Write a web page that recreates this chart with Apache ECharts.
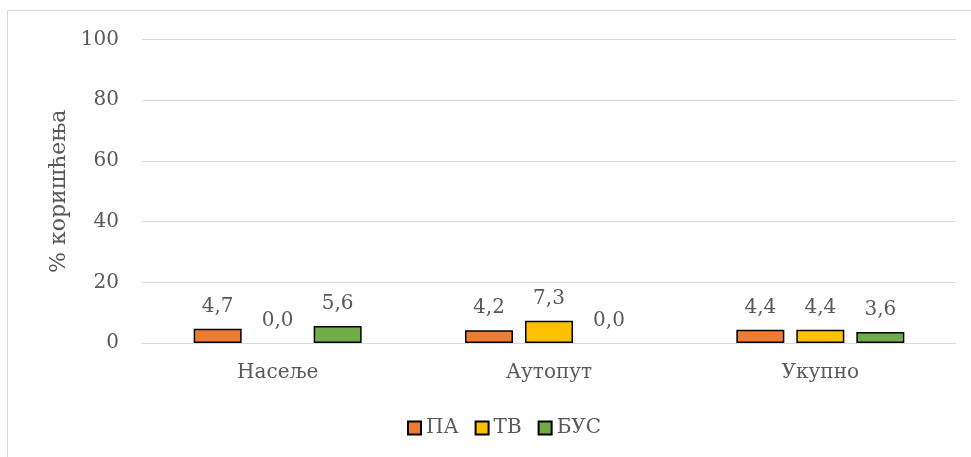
<!DOCTYPE html>
<html>
<head>
<meta charset="utf-8">
<script src="https://cdn.jsdelivr.net/npm/echarts@6/dist/echarts.min.js"></script>
<style>
html,body{margin:0;padding:0;background:#fff;}
#c{width:971px;height:457px;}
</style>
</head>
<body>
<div id="c"></div>
<script>
const categories = ['Насеље', 'Аутопут', 'Укупно'];
const seriesNames = ['ПА', 'ТВ', 'БУС'];
const valuesPA = [4.7, 4.2, 4.4];
const valuesTB = [0.0, 7.3, 4.4];
const valuesBUS = [5.6, 0.0, 3.6];
const yTicks = [0, 20, 40, 60, 80, 100];
const colors = ['#ED7D31', '#FFC000', '#70AD47'];

const FONT = 'DejaVu Serif';
const TXT = '#595959';
const chart = echarts.init(document.getElementById('c'));
const seriesData = [valuesPA, valuesTB, valuesBUS];

chart.setOption({
  animation: false,
  graphic: [{
    type: 'polyline',
    shape: { points: [[7.5, 460], [7.5, 10.5], [975, 10.5]] },
    style: { stroke: '#d9d9d9', lineWidth: 1, fill: null },
    silent: true
  }],
  grid: { left: 142, right: 15, top: 39.5, bottom: 114, containLabel: false },
  legend: {
    data: seriesNames,
    left: 402,
    top: 413,
    itemWidth: 13,
    itemHeight: 13,
    itemGap: 16,
    icon: 'rect',
    textStyle: { fontFamily: FONT, fontSize: 20, color: TXT }
  },
  xAxis: {
    type: 'category',
    data: categories,
    axisLine: { show: true, lineStyle: { color: '#d9d9d9', width: 1 } },
    axisTick: { show: false },
    axisLabel: { fontFamily: FONT, fontSize: 20, color: TXT, margin: 20 },
    splitLine: { show: false }
  },
  yAxis: {
    type: 'value',
    min: yTicks[0],
    max: yTicks[yTicks.length - 1],
    interval: 20,
    name: '% коришћења',
    nameLocation: 'middle',
    nameRotate: 90,
    nameGap: 72,
    nameTextStyle: { fontFamily: FONT, fontSize: 22, color: TXT },
    axisLine: { show: false },
    axisTick: { show: false },
    axisLabel: { fontFamily: FONT, fontSize: 20, color: TXT, margin: 23 },
    splitLine: { lineStyle: { color: '#d9d9d9', width: 1 } }
  },
  series: seriesNames.map((n, i) => ({
    name: n,
    type: 'bar',
    data: seriesData[i].map(v => v === 0 ? { value: v, itemStyle: { borderWidth: 0 } } : v),
    barWidth: 48,
    barGap: '25%',
    itemStyle: { color: colors[i], borderColor: '#000', borderWidth: 1.5 },
    label: {
      show: true,
      position: 'top',
      distance: 12,
      fontFamily: FONT,
      fontSize: 20,
      color: TXT,
      formatter: p => p.value.toFixed(1).replace('.', ',')
    }
  }))
});
</script>
</body>
</html>
